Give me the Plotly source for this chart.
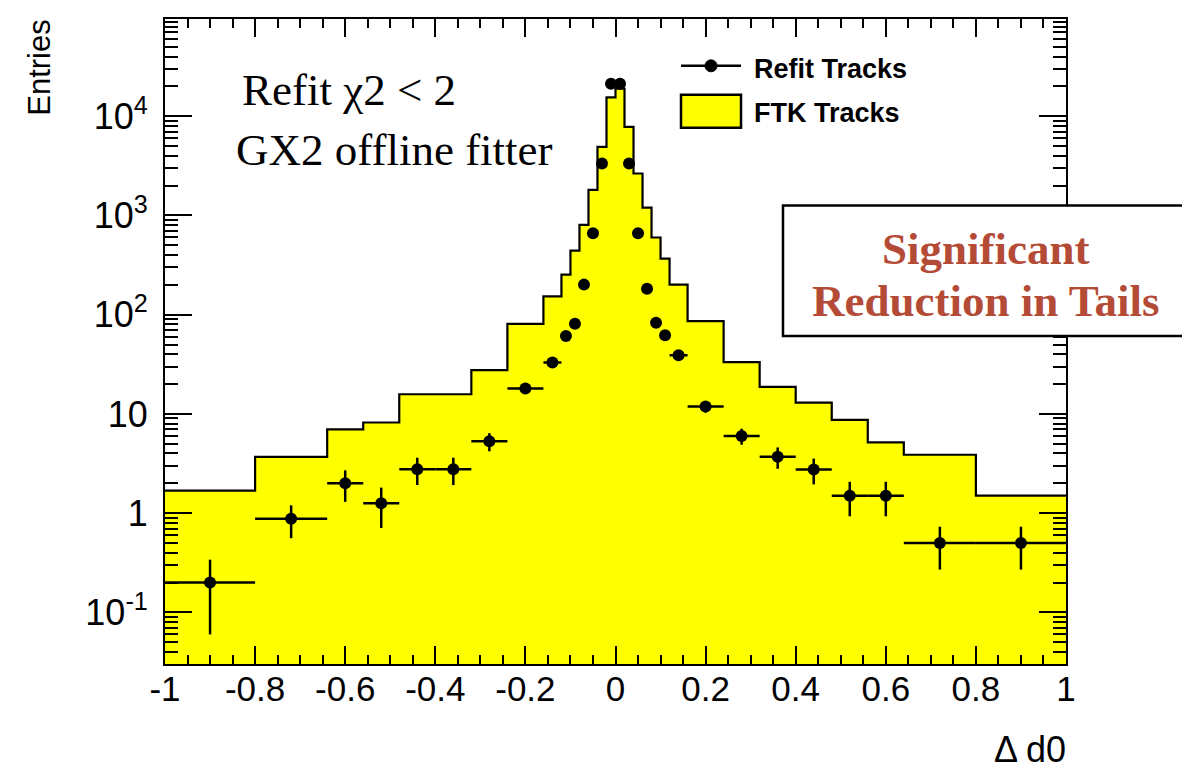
import numpy as np
import plotly.graph_objects as go

# ---------------- data ----------------
bin_edges = [-1.0, -0.8, -0.64, -0.56, -0.48, -0.40, -0.32, -0.24, -0.16, -0.12,
             -0.10, -0.08, -0.06, -0.04, -0.02, 0.0, 0.02, 0.04, 0.06, 0.08,
             0.10, 0.12, 0.16, 0.24, 0.32, 0.40, 0.48, 0.56, 0.64, 0.80, 1.0]

ftk_counts = [1.69, 3.7, 7.0, 8.2, 15.8, 15.8, 27.7, 81, 153, 253,
              442, 805, 1810, 4920, 15500, 19000, 7800, 2650, 1200, 600,
              367, 201, 86, 33.3, 18.7, 13.0, 8.7, 5.16, 3.88, 1.5]

refit_counts = [0.2, 0.88, 2.0, 1.26, 2.77, 2.77, 5.3, 18, 33, 61,
                81, 201, 663, 3340, 21200, 21200, 3340, 663, 183, 83,
                62, 39, 11.9, 6.0, 3.7, 2.75, 1.5, 1.5, 0.5, 0.5]

refit_errors = [0.14, 0.32, 0.7, 0.55, 0.85, 0.85, 1.1, 2.0, 2.7, 3.7,
                4.3, 6.7, 12, 27, 69, 69, 27, 12, 6.4, 4.3,
                3.7, 2.9, 1.6, 1.1, 0.9, 0.8, 0.57, 0.57, 0.23, 0.23]

series_names = ["Refit Tracks", "FTK Tracks"]

x_tick_values = [-1, -0.8, -0.6, -0.4, -0.2, 0, 0.2, 0.4, 0.6, 0.8, 1]
x_tick_labels = ["-1", "-0.8", "-0.6", "-0.4", "-0.2", "0", "0.2", "0.4", "0.6", "0.8", "1"]
y_tick_values = [0.1, 1, 10, 100, 1000, 10000]
y_tick_labels = ["10<sup>-1</sup>", "1", "10", "10<sup>2</sup>", "10<sup>3</sup>", "10<sup>4</sup>"]
y_minor_values = [k * 10.0 ** n for n in range(-2, 5) for k in range(2, 10)]

# ---------------- derived ----------------
edges = np.array(bin_edges)
centers = (edges[:-1] + edges[1:]) / 2
widths = np.diff(edges)

SANS = "Liberation Sans, Arial, Helvetica, sans-serif"
SERIF = "Liberation Serif, Times New Roman, serif"
YELLOW = "#FFFF00"
RED = "#B44B37"

fig = go.Figure()

# FTK filled histogram
fig.add_trace(go.Bar(
    x=centers, y=ftk_counts, width=widths, name=series_names[1],
    marker=dict(color=YELLOW, line=dict(width=0)),
    showlegend=False, hoverinfo="skip",
))
# FTK outline (step)
fig.add_trace(go.Scatter(
    x=list(edges), y=list(ftk_counts) + [ftk_counts[-1]],
    mode="lines", line=dict(shape="hv", color="black", width=2.2),
    showlegend=False, hoverinfo="skip",
))
# Refit points with error bars
fig.add_trace(go.Scatter(
    x=centers, y=refit_counts, mode="markers", name=series_names[0],
    marker=dict(color="black", size=12),
    error_y=dict(type="data", array=refit_errors, color="black", thickness=2.5, width=0),
    error_x=dict(type="data", array=widths / 2, color="black", thickness=2.5, width=0),
    showlegend=False,
))

fig.update_layout(
    width=1182, height=765,
    margin=dict(l=157, r=124, t=9, b=109),
    paper_bgcolor="white", plot_bgcolor="white",
    bargap=0,
    showlegend=False,
    xaxis=dict(
        range=[-1, 1], tickvals=x_tick_values, ticktext=x_tick_labels,
        ticks="inside", ticklen=18, tickwidth=1.5, tickcolor="black",
        showline=True, linewidth=2, linecolor="black", mirror="ticks",
        showgrid=False, zeroline=False, ticklabelstandoff=-7,
        minor=dict(ticks="inside", ticklen=9, dtick=0.05, tick0=0, tickwidth=1.5,
                   tickcolor="black", showgrid=False),
        tickfont=dict(family=SANS, size=35, color="black"),
    ),
    yaxis=dict(
        type="log", range=[-1.52, 4.98],
        tickvals=y_tick_values, ticktext=y_tick_labels,
        ticks="inside", ticklen=27, tickwidth=1.5, tickcolor="black",
        showline=True, linewidth=2, linecolor="black", mirror="ticks",
        showgrid=False, zeroline=False, ticklabelstandoff=8,
        minor=dict(ticks="inside", ticklen=13, tickvals=y_minor_values, tickwidth=1.5,
                   tickcolor="black", showgrid=False),
        tickfont=dict(family=SANS, size=36, color="black"),
    ),
)

shapes = [
    # annotation box
    dict(type="rect", xref="paper", yref="paper",
         x0=0.6859, x1=1.1354, y0=0.5085, y1=0.711,
         fillcolor="white", line=dict(color="black", width=2.5), layer="above"),
    # legend: refit line + marker
    dict(type="line", xref="paper", yref="paper",
         x0=0.5727, x1=0.6393, y0=0.9274, y1=0.9274,
         line=dict(color="black", width=2.5), layer="above"),
    dict(type="circle", xref="paper", yref="paper",
         x0=0.6060 - 0.0067, x1=0.6060 + 0.0067, y0=0.9274 - 0.0093, y1=0.9274 + 0.0093,
         fillcolor="black", line=dict(color="black", width=1), layer="above"),
    # legend: FTK box
    dict(type="rect", xref="paper", yref="paper",
         x0=0.5727, x1=0.6393, y0=0.8315, y1=0.8825,
         fillcolor=YELLOW, line=dict(color="black", width=2.5), layer="above"),
]
fig.update_layout(shapes=shapes)

annotations = [
    dict(text="Entries", x=-0.1387, y=1.002, xref="paper", yref="paper",
         xanchor="center", yanchor="top", textangle=-90, showarrow=False,
         font=dict(family=SANS, size=31, color="black")),
    dict(text="Δ d0", x=1.001, y=-0.133, xref="paper", yref="paper",
         xanchor="right", yanchor="middle", showarrow=False, borderpad=0,
         font=dict(family=SANS, size=36, color="black")),
    dict(text="Refit χ2 < 2", x=0.0832, y=0.890, xref="paper", yref="paper",
         xanchor="left", yanchor="middle", showarrow=False,
         font=dict(family=SERIF, size=45, color="black")),
    dict(text="GX2 offline fitter", x=0.0765, y=0.797, xref="paper", yref="paper",
         xanchor="left", yanchor="middle", showarrow=False,
         font=dict(family=SERIF, size=45, color="black")),
    dict(text="<b>Significant</b>", x=0.9112, y=0.643,
         xref="paper", yref="paper", xanchor="center", yanchor="middle",
         showarrow=False, font=dict(family=SERIF, size=45, color=RED)),
    dict(text="<b>Reduction in Tails</b>", x=0.9112, y=0.5626,
         xref="paper", yref="paper", xanchor="center", yanchor="middle",
         showarrow=False, font=dict(family=SERIF, size=45, color=RED)),
    dict(text="<b>" + series_names[0] + "</b>", x=0.6515, y=0.9227, xref="paper", yref="paper",
         xanchor="left", yanchor="middle", showarrow=False,
         font=dict(family=SANS, size=27, color="black")),
    dict(text="<b>" + series_names[1] + "</b>", x=0.6515, y=0.8547, xref="paper", yref="paper",
         xanchor="left", yanchor="middle", showarrow=False,
         font=dict(family=SANS, size=27, color="black")),
]
fig.update_layout(annotations=annotations)

fig.write_html("out.html")
